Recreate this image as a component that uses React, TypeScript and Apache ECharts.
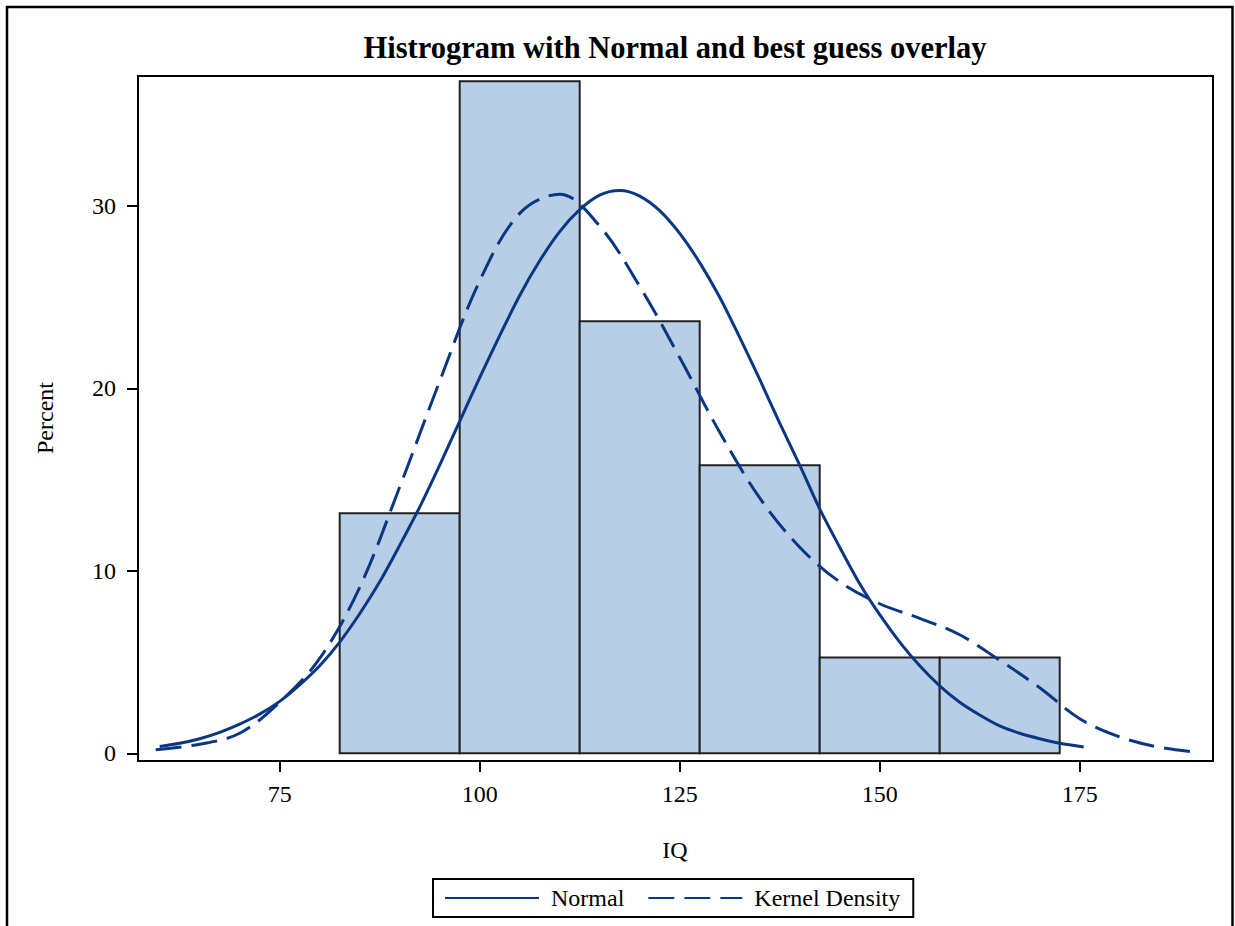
import React, { useEffect, useRef } from "react";
import * as echarts from "echarts";

const chartTitle = "Histrogram with Normal and best guess overlay";
const xAxisName = "IQ";
const yAxisName = "Percent";

const binStarts = [82.5, 97.5, 112.5, 127.5, 142.5, 157.5];
const binWidth = 15;
const binPercents = [13.16, 36.84, 23.68, 15.79, 5.26, 5.26];

const normalX = [60, 62.5, 65, 67.5, 70, 72.5, 75, 77.5, 80, 82.5, 85, 87.5, 90, 92.5, 95, 97.5, 100, 102.5, 105, 107.5, 110, 112.5, 115, 117.5, 120, 122.5, 125, 127.5, 130, 132.5, 135, 137.5, 140, 142.5, 145, 147.5, 150, 152.5, 155, 157.5, 160, 162.5, 165, 167.5, 170, 172.5, 175.5];
const normalY = [0.38, 0.55, 0.8, 1.15, 1.6, 2.15, 2.85, 3.75, 4.8, 6.1, 7.65, 9.4, 11.4, 13.5, 15.8, 18.2, 20.6, 22.9, 25.1, 27.0, 28.6, 29.8, 30.6, 30.85, 30.55, 29.75, 28.5, 26.9, 25.0, 22.8, 20.5, 18.1, 15.8, 13.4, 11.3, 9.3, 7.6, 6.1, 4.8, 3.7, 2.8, 2.1, 1.5, 1.1, 0.8, 0.55, 0.35];

const kernelX = [59.5, 65, 70, 75, 80, 85, 90, 95, 100, 105, 110, 115, 120, 125, 130, 135, 140, 145, 150, 155, 160, 165, 170, 175, 180, 185, 190];
const kernelY = [0.2, 0.5, 1.1, 2.8, 5.2, 9.1, 14.6, 20.4, 25.9, 29.6, 30.65, 28.9, 25.6, 21.7, 17.6, 14.0, 11.3, 9.4, 8.2, 7.4, 6.5, 5.1, 3.6, 1.9, 0.9, 0.33, 0.05];

const xTicks = [75, 100, 125, 150, 175];
const yTicks = [0, 10, 20, 30];

const FONT = "'Liberation Serif', 'DejaVu Serif', serif";
const NAVY = "#0a3783";

export default function App() {
  const ref = useRef<HTMLDivElement>(null);
  useEffect(() => {
    if (!ref.current) return;
    const chart = echarts.init(ref.current, undefined, { renderer: "svg" });
    const histData = binStarts.map((s, i) => [s, s + binWidth, binPercents[i]]);
    const option: any = {
      animation: false,
      backgroundColor: "#fff",
      textStyle: { fontFamily: FONT },
      grid: {
        left: 138, right: 22, top: 76, bottom: 165,
        show: true, borderColor: "#000", borderWidth: 2, backgroundColor: "transparent",
      },
      xAxis: {
        type: "value", min: 57.29, max: 191.66,
        splitLine: { show: false },
        axisLine: { show: true, onZero: false, lineStyle: { color: "#000", width: 2 } },
        axisTick: { show: true, customValues: xTicks, length: 11, lineStyle: { color: "#000", width: 2 } },
        axisLabel: { customValues: xTicks, fontSize: 24, color: "#000", fontFamily: FONT, margin: 21 },
      },
      yAxis: {
        type: "value", min: -0.42, max: 37.13,
        splitLine: { show: false },
        axisLine: { show: true, onZero: false, lineStyle: { color: "#000", width: 2 } },
        axisTick: { show: true, customValues: yTicks, length: 11, lineStyle: { color: "#000", width: 2 } },
        axisLabel: { customValues: yTicks, fontSize: 24, color: "#000", fontFamily: FONT, margin: 22 },
      },
      legend: {
        data: ["Normal", "Kernel Density"],
        left: 433, top: 879,
        orient: "horizontal",
        padding: [7, 13, 7, 11],
        borderColor: "#000", borderWidth: 2,
        itemWidth: 94, itemHeight: 20, itemGap: 23,
        itemStyle: { opacity: 0 },
        textStyle: { fontSize: 24, color: "#000", fontFamily: FONT, padding: [0, 0, 0, 7] },
      },
      graphic: [
        {
          type: "rect", silent: true,
          shape: { x: 7, y: 7, width: 1225.5, height: 940 },
          style: { fill: "none", stroke: "#000", lineWidth: 2.5 },
        },
        {
          type: "text", x: 675, y: 48,
          style: { text: chartTitle, font: `bold 30.5px ${FONT}`, fill: "#000", textAlign: "center", textVerticalAlign: "middle" },
        },
        {
          type: "text", x: 675, y: 850,
          style: { text: xAxisName, font: `24px ${FONT}`, fill: "#000", textAlign: "center", textVerticalAlign: "middle" },
        },
        {
          type: "text", x: 45, y: 418, rotation: Math.PI / 2,
          style: { text: yAxisName, font: `24px ${FONT}`, fill: "#000", textAlign: "center", textVerticalAlign: "middle" },
        },
      ],
      series: [
        {
          name: "Histogram",
          type: "custom",
          data: histData,
          encode: { x: [0, 1], y: 2 },
          renderItem: (params: any, api: any) => {
            const p0 = api.coord([api.value(0), api.value(2)]);
            const p1 = api.coord([api.value(1), 0]);
            return {
              type: "rect",
              shape: { x: p0[0], y: p0[1], width: p1[0] - p0[0], height: p1[1] - p0[1] },
              style: { fill: "#b8cee6", stroke: "#222", lineWidth: 2 },
            };
          },
          z: 1,
        },
        {
          name: "Normal",
          type: "line",
          data: normalX.map((x, i) => [x, normalY[i]]),
          smooth: 0.3,
          symbol: "none",
          lineStyle: { color: NAVY, width: 3, type: "solid" },
          itemStyle: { color: NAVY },
          z: 3,
        },
        {
          name: "Kernel Density",
          type: "line",
          data: kernelX.map((x, i) => [x, kernelY[i]]),
          smooth: 0.35,
          symbol: "none",
          lineStyle: { color: NAVY, width: 3, type: [26, 10] },
          itemStyle: { color: NAVY },
          z: 3,
        },
      ],
    };
    chart.setOption(option);
    return () => chart.dispose();
  }, []);
  return <div ref={ref} style={{ position: "absolute", left: 0, top: 0, width: 1235, height: 926 }} />;
}
